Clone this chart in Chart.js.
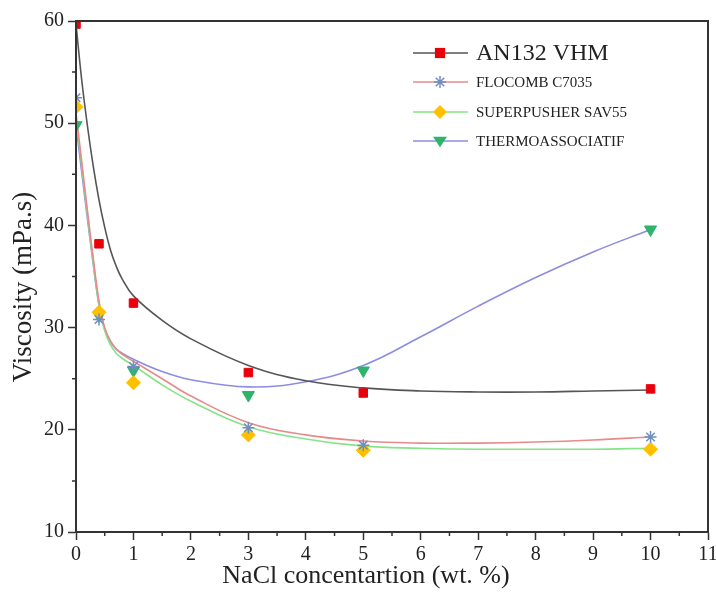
<!DOCTYPE html>
<html>
<head>
<meta charset="utf-8">
<script src="https://cdn.jsdelivr.net/npm/chart.js@4/dist/chart.umd.min.js"></script>
<style>
  html, body { margin: 0; padding: 0; background: #fff; }
  #wrap { width: 716px; height: 592px; }
</style>
</head>
<body>
<div id="wrap"><canvas id="viscChart" width="716" height="592"></canvas></div>
<script>
// measured NaCl concentrations (wt. %)
const concentrations = [0, 0.4, 1, 3, 5, 10];

// measured viscosities (mPa.s)
const an132 = [59.7, 38.2, 32.4, 25.6, 23.6, 24.0];
const flocomb = [52.5, 30.8, 26.2, 20.2, 18.5, 19.3];
const superpusher = [51.6, 31.5, 24.6, 19.5, 18.0, 18.1];
const thermo = [49.8, 31.2, 25.8, 23.4, 25.8, 39.6];

// fitted curves
const fitX = [0, 0.1, 0.2, 0.3, 0.4, 0.5, 0.6, 0.7, 0.8, 1, 1.5, 2, 3, 4, 5, 6, 7, 8, 9, 10];
const an132Fit = [59.7, 54.2, 49.7, 45.8, 42.5, 39.8, 37.6, 36.0, 34.8, 33.1, 30.7, 28.9, 26.3, 24.8, 24.1, 23.8, 23.7, 23.7, 23.8, 23.9];
const flocombFit = [51.0, 46.2, 41.4, 36.8, 32.6, 30.0, 28.7, 27.9, 27.4, 26.7, 25.0, 23.3, 20.7, 19.5, 18.9, 18.7, 18.7, 18.8, 19.0, 19.3];
const superpusherFit = [50.5, 45.8, 41.0, 36.4, 32.3, 29.7, 28.3, 27.5, 27.0, 26.3, 24.4, 22.8, 20.3, 19.1, 18.4, 18.2, 18.1, 18.1, 18.1, 18.2];
const thermoFit = [49.8, 45.2, 40.6, 36.2, 32.2, 29.8, 28.6, 27.9, 27.5, 26.9, 25.7, 24.9, 24.2, 24.7, 26.3, 29.1, 32.1, 34.9, 37.4, 39.6];

const xTicks = [0, 1, 2, 3, 4, 5, 6, 7, 8, 9, 10, 11];
const yTicks = [10, 20, 30, 40, 50, 60];

const seriesNames = ["AN132 VHM", "FLOCOMB C7035", "SUPERPUSHER SAV55", "THERMOASSOCIATIF"];
const xTitle = "NaCl concentartion (wt. %)";
const yTitle = "Viscosity (mPa.s)";

const serif = "'Liberation Serif', 'Times New Roman', serif";

function pts(xs, ys) {
  return xs.map((x, i) => ({ x: x, y: ys[i] }));
}

const series = [
  { name: seriesNames[0], values: an132, fit: an132Fit, line: "#555555", marker: "#e8000b", style: "rect", radius: 6, rot: 0 },
  { name: seriesNames[1], values: flocomb, fit: flocombFit, line: "#e88a8a", marker: "#6f8fc0", style: "star", radius: 6, rot: 0 },
  { name: seriesNames[2], values: superpusher, fit: superpusherFit, line: "#86e486", marker: "#ffc000", style: "rectRot", radius: 7, rot: 0 },
  { name: seriesNames[3], values: thermo, fit: thermoFit, line: "#8c8ce0", marker: "#2db36b", style: "triangle", radius: 7, rot: 180 },
];

const datasets = [];
series.forEach((s) => {
  datasets.push({
    label: s.name,
    data: pts(concentrations, s.values),
    showLine: false,
    pointStyle: s.style,
    pointRadius: s.radius,
    pointRotation: s.rot,
    pointBackgroundColor: s.marker,
    pointBorderColor: s.marker,
    pointBorderWidth: s.style === "star" ? 1.5 : 1,
    order: 0,
  });
  datasets.push({
    label: s.name + " fit",
    data: pts(fitX, s.fit),
    showLine: true,
    borderColor: s.line,
    borderWidth: 1.6,
    pointRadius: 0,
    tension: 0.4,
    fill: false,
    order: 1,
  });
});

// frame on all four sides, short minor ticks, axis titles
const framePlugin = {
  id: "frame",
  afterDraw(chart) {
    const { ctx, chartArea: a, scales } = chart;
    ctx.save();
    ctx.strokeStyle = "#333";
    ctx.lineWidth = 2;
    ctx.strokeRect(a.left, a.top, a.right - a.left, a.bottom - a.top);
    ctx.lineWidth = 1.5;
    ctx.beginPath();
    for (let v = 0.5; v < 11; v += 1) {
      const px = scales.x.getPixelForValue(v);
      ctx.moveTo(px, a.bottom);
      ctx.lineTo(px, a.bottom + 4);
    }
    for (let v = 15; v < 60; v += 10) {
      const py = scales.y.getPixelForValue(v);
      ctx.moveTo(a.left, py);
      ctx.lineTo(a.left - 4, py);
    }
    ctx.stroke();

    ctx.fillStyle = "#222";
    ctx.textAlign = "center";
    ctx.textBaseline = "middle";
    ctx.font = "26px " + serif;
    ctx.fillText(xTitle, 366, 576);
    ctx.translate(24, 287);
    ctx.rotate(-Math.PI / 2);
    ctx.font = "27px " + serif;
    ctx.fillText(yTitle, 0, 0);
    ctx.restore();
  },
};

function drawMarker(ctx, style, x, y, r, color) {
  ctx.fillStyle = color;
  ctx.strokeStyle = color;
  ctx.beginPath();
  if (style === "rect") {
    ctx.fillRect(x - r * 0.85, y - r * 0.85, r * 1.7, r * 1.7);
  } else if (style === "rectRot") {
    ctx.moveTo(x, y - r);
    ctx.lineTo(x + r, y);
    ctx.lineTo(x, y + r);
    ctx.lineTo(x - r, y);
    ctx.closePath();
    ctx.fill();
  } else if (style === "triangle") {
    ctx.moveTo(x - r, y - r * 0.6);
    ctx.lineTo(x + r, y - r * 0.6);
    ctx.lineTo(x, y + r * 0.9);
    ctx.closePath();
    ctx.fill();
  } else if (style === "star") {
    ctx.lineWidth = 1.5;
    for (let k = 0; k < 4; k++) {
      const ang = (k * Math.PI) / 4;
      ctx.moveTo(x - r * Math.cos(ang), y - r * Math.sin(ang));
      ctx.lineTo(x + r * Math.cos(ang), y + r * Math.sin(ang));
    }
    ctx.stroke();
  }
}

const legendPlugin = {
  id: "customLegend",
  afterDraw(chart) {
    const ctx = chart.ctx;
    const rowsY = [53, 82, 112, 141];
    ctx.save();
    series.forEach((s, i) => {
      const y = rowsY[i];
      ctx.strokeStyle = s.line;
      ctx.lineWidth = 1.6;
      ctx.beginPath();
      ctx.moveTo(413, y);
      ctx.lineTo(468, y);
      ctx.stroke();
      drawMarker(ctx, s.style, 440, y, s.radius, s.marker);
      ctx.fillStyle = "#222";
      ctx.textBaseline = "middle";
      ctx.textAlign = "left";
      ctx.font = (i === 0 ? "24px " : "15px ") + serif;
      ctx.fillText(s.name, 476, y + 1);
    });
    ctx.restore();
  },
};

const ctx = document.getElementById("viscChart").getContext("2d");

new Chart(ctx, {
  type: "scatter",
  data: { datasets: datasets },
  options: {
    responsive: false,
    animation: false,
    layout: { padding: { top: 21, right: 6, left: 0, bottom: 0 } },
    plugins: {
      legend: { display: false },
      tooltip: { enabled: false },
    },
    scales: {
      x: {
        type: "linear",
        min: 0,
        max: 11,
        afterBuildTicks: (scale) => {
          scale.ticks = xTicks.map((v) => ({ value: v }));
        },
        afterFit: (scale) => {
          scale.height = 60;
          scale.paddingLeft = 0;
          scale.paddingRight = 0;
        },
        ticks: { color: "#222", font: { family: serif, size: 20 }, padding: 3 },
        grid: { drawOnChartArea: false, drawTicks: true, tickLength: 8, tickColor: "#333", tickWidth: 1.5 },
        border: { display: true, color: "#333", width: 2 },
        title: { display: false },
      },
      y: {
        type: "linear",
        min: 10,
        max: 60,
        afterBuildTicks: (scale) => {
          scale.ticks = yTicks.map((v) => ({ value: v }));
        },
        afterFit: (scale) => {
          scale.width = 76;
          scale.paddingTop = 0;
          scale.paddingBottom = 0;
        },
        ticks: { color: "#222", font: { family: serif, size: 20 }, padding: 4 },
        grid: { drawOnChartArea: false, drawTicks: true, tickLength: 8, tickColor: "#333", tickWidth: 1.5 },
        border: { display: true, color: "#333", width: 2 },
        title: { display: false },
      },
    },
  },
  plugins: [framePlugin, legendPlugin],
});
</script>
</body>
</html>
